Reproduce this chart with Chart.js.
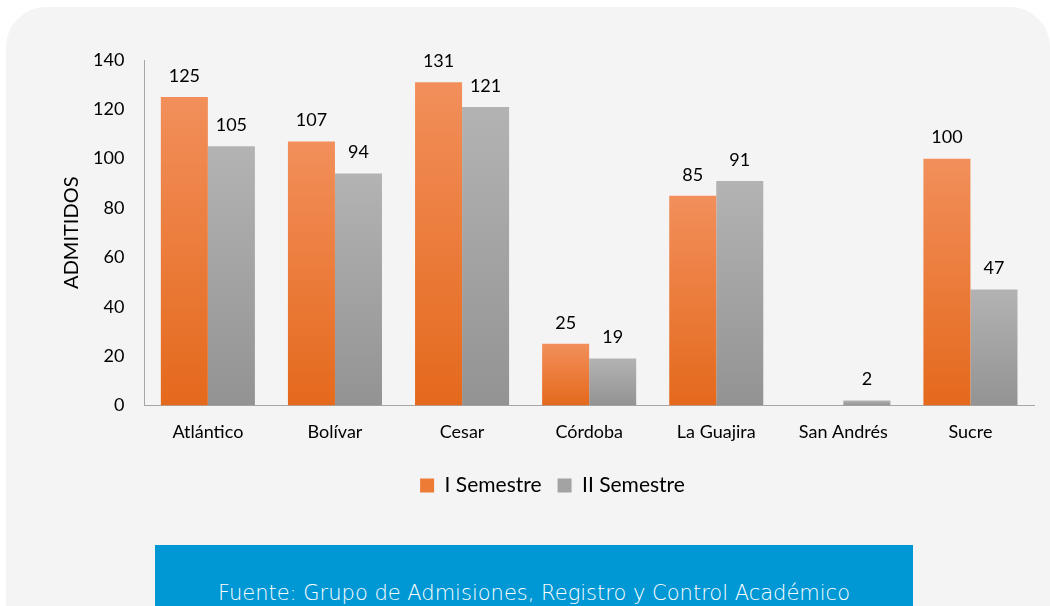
<!DOCTYPE html>
<html>
<head>
<meta charset="utf-8">
<script src="https://cdn.jsdelivr.net/npm/chart.js@4.4.0/dist/chart.umd.min.js"></script>
<style>
  html, body { margin: 0; padding: 0; background: #ffffff; overflow: hidden; }
  #panel {
    position: absolute; left: 6px; top: 7px; width: 1044px; height: 660px;
    background: #f4f4f4; border-radius: 40px;
  }
  #wrap { position: absolute; left: 0; top: 0; width: 1050px; height: 506px; }
  #fuente {
    position: absolute; left: 155px; top: 545px; width: 758px; height: 80px;
    background: #0097d5; color: #ffffff;
    font-family: "DejaVu Sans"; font-weight: 200; font-size: 21px;
    text-align: center; box-sizing: border-box; padding-top: 36px;
  }
</style>
</head>
<body>
<div id="panel"></div>
<div id="wrap"><canvas id="grafico"></canvas></div>
<div id="fuente">Fuente: Grupo de Admisiones, Registro y Control Académico</div>
<script>
var departamentos = ["Atlántico", "Bolívar", "Cesar", "Córdoba", "La Guajira", "San Andrés", "Sucre"];
var semestre1 = [125, 107, 131, 25, 85, null, 100];
var semestre2 = [105, 94, 121, 19, 91, 2, 47];
var ticksY = [0, 20, 40, 60, 80, 100, 120, 140];

var fuente = "Lato";

function degradado(claro, oscuro) {
  return function (ctx) {
    var chart = ctx.chart;
    if (!chart.chartArea || ctx.raw == null) return oscuro;
    var y = chart.scales.y;
    var arriba = y.getPixelForValue(ctx.raw);
    var abajo = y.getPixelForValue(0);
    if (abajo - arriba < 1) return oscuro;
    var g = chart.ctx.createLinearGradient(0, arriba, 0, abajo);
    g.addColorStop(0, claro);
    g.addColorStop(1, oscuro);
    return g;
  };
}

// etiquetas de valor encima de cada barra
var etiquetas = {
  id: "etiquetas",
  afterDatasetsDraw: function (chart) {
    var c = chart.ctx;
    c.save();
    c.font = "18px " + fuente;
    c.fillStyle = "#000000";
    c.textAlign = "center";
    c.textBaseline = "bottom";
    chart.data.datasets.forEach(function (ds, i) {
      chart.getDatasetMeta(i).data.forEach(function (bar, j) {
        if (ds.data[j] == null) return;
        c.fillText(ds.data[j], bar.x, bar.y - 12);
      });
    });
    c.restore();
  }
};

var relatorio = document.getElementById("grafico").getContext("2d");
var grafico = new Chart(relatorio, {
  type: "bar",
  data: {
    labels: departamentos,
    datasets: [{
      label: "I Semestre",
      data: semestre1,
      backgroundColor: degradado("#f28f5b", "#e4691c"),
      legendColor: "#ed7a35"
    }, {
      label: "II Semestre",
      data: semestre2,
      backgroundColor: degradado("#b3b3b3", "#939393"),
      legendColor: "#a3a3a3"
    }]
  },
  options: {
    responsive: true,
    maintainAspectRatio: false,
    animation: false,
    datasets: { bar: { barPercentage: 1, categoryPercentage: 0.74 } },
    layout: { padding: { left: 71, right: 16, top: 60, bottom: 0 } },
    plugins: {
      tooltip: { enabled: false },
      legend: {
        position: "bottom",
        labels: {
          font: { family: fuente, size: 21 },
          color: "#000000",
          boxWidth: 14,
          boxHeight: 14,
          padding: 16,
          generateLabels: function (chart) {
            return chart.data.datasets.map(function (ds, i) {
              return {
                text: ds.label,
                fillStyle: ds.legendColor,
                strokeStyle: ds.legendColor,
                lineWidth: 0,
                datasetIndex: i
              };
            });
          }
        }
      }
    },
    scales: {
      x: {
        grid: { display: false, drawTicks: false },
        border: { color: "#a6a6a6", width: 1 },
        ticks: { font: { family: fuente, size: 18 }, color: "#000000", padding: 16 }
      },
      y: {
        min: 0,
        max: 140,
        afterBuildTicks: function (axis) {
          axis.ticks = ticksY.map(function (v) { return { value: v }; });
        },
        grid: { display: false, drawTicks: false },
        border: { color: "#a6a6a6", width: 1 },
        ticks: { font: { family: fuente, size: 18 }, color: "#000000", padding: 20 },
        title: {
          display: true,
          text: "ADMITIDOS",
          font: { family: fuente, size: 20, lineHeight: 0.1 },
          color: "#000000",
          padding: 0
        }
      }
    }
  },
  plugins: [etiquetas]
});
</script>
</body>
</html>
